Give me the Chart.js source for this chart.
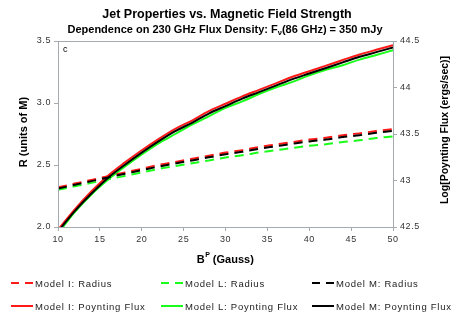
<!DOCTYPE html>
<html>
<head>
<meta charset="utf-8">
<script src="https://cdn.jsdelivr.net/npm/chart.js@4/dist/chart.umd.min.js"></script>
<style>
  html, body { margin: 0; padding: 0; background: #fff; }
  #wrap { width: 457px; height: 313px; position: relative; }
</style>
</head>
<body>
<div id="wrap"><canvas id="chart"></canvas></div>
<script>
// magnetic field values (Gauss)
var bField = [10, 12, 14, 16, 18, 20, 22, 24, 26, 28, 30, 32, 34, 36, 38, 40, 42, 44, 46, 48, 50];

// jet radius (units of M)
var radiusI = [2.32, 2.35, 2.38, 2.41, 2.44, 2.47, 2.50, 2.525, 2.55, 2.575, 2.60, 2.62, 2.645, 2.665, 2.685, 2.705, 2.72, 2.74, 2.755, 2.775, 2.79];
var radiusL = [2.30, 2.328, 2.356, 2.384, 2.412, 2.44, 2.468, 2.491, 2.514, 2.537, 2.56, 2.578, 2.601, 2.619, 2.637, 2.655, 2.668, 2.686, 2.699, 2.717, 2.73];
var radiusM = [2.31, 2.34, 2.37, 2.40, 2.43, 2.458, 2.487, 2.512, 2.537, 2.562, 2.586, 2.606, 2.631, 2.651, 2.671, 2.69, 2.705, 2.725, 2.74, 2.76, 2.775];

// log poynting flux (ergs/sec)
var fluxI = [42.47, 42.69, 42.885, 43.055, 43.195, 43.325, 43.445, 43.555, 43.645, 43.745, 43.825, 43.905, 43.975, 44.045, 44.115, 44.175, 44.235, 44.295, 44.355, 44.405, 44.455];
var fluxL = [42.43, 42.66, 42.85, 43.01, 43.15, 43.28, 43.40, 43.50, 43.60, 43.69, 43.78, 43.85, 43.93, 44.00, 44.06, 44.13, 44.19, 44.24, 44.30, 44.35, 44.40];
var fluxM = [42.45, 42.67, 42.86, 43.03, 43.17, 43.30, 43.42, 43.53, 43.62, 43.72, 43.80, 43.88, 43.95, 44.02, 44.09, 44.15, 44.21, 44.27, 44.33, 44.38, 44.43];

var radiusTicks = [2.0, 2.5, 3.0, 3.5];
var fluxTicks = [42.5, 43, 43.5, 44, 44.5];

var RED = '#ff1a1a', GREEN = '#1aff1a', BLACK = '#000000';
var AXIS = '#a3abb0';
var FONT = '"Liberation Sans", Arial, sans-serif';

function pts(ys) {
    return bField.map(function (b, i) { return {x: b, y: ys[i]}; });
}

function ds(label, ys, color, dashed, axis) {
    return {
        label: label,
        data: pts(ys),
        borderColor: color,
        backgroundColor: color,
        borderWidth: 2,
        borderDash: dashed ? [9, 6] : [],
        pointRadius: 0,
        cubicInterpolationMode: 'monotone',
        yAxisID: axis,
        dashed: dashed
    };
}

var datasets = [
    ds('Model I: Radius', radiusI, RED, true, 'y'),
    ds('Model L: Radius', radiusL, GREEN, true, 'y'),
    ds('Model M: Radius', radiusM, BLACK, true, 'y'),
    ds('Model I: Poynting Flux', fluxI, RED, false, 'y2'),
    ds('Model L: Poynting Flux', fluxL, GREEN, false, 'y2'),
    ds('Model M: Poynting Flux', fluxM, BLACK, false, 'y2')
];
// draw order: green under red under black
var drawOrder = [1, 2, 0, 1, 2, 0];
datasets.forEach(function (d, i) { d.order = drawOrder[i]; });

var extras = {
    id: 'extras',
    beforeDraw: function (chart) {
        chart.ctx.letterSpacing = '0.6px';
    },
    afterDraw: function (chart) {
        var ctx = chart.ctx, a = chart.chartArea;
        ctx.save();
        ctx.letterSpacing = '0px';
        ctx.strokeStyle = AXIS;
        ctx.lineWidth = 1;
        ctx.strokeRect(a.left + 0.5, a.top + 0.5, a.right - a.left, a.bottom - a.top);

        ctx.fillStyle = '#000';
        ctx.textBaseline = 'middle';
        ctx.textAlign = 'center';
        ctx.font = 'bold 12.5px ' + FONT;
        ctx.fillText('Jet Properties vs. Magnetic Field Strength', 227, 15);

        // subtitle with subscript
        var s1 = 'Dependence on 230 GHz Flux Density: F', s2 = 'ν', s3 = '(86 GHz) = 350 mJy';
        ctx.font = 'bold 11px ' + FONT;
        var w1 = ctx.measureText(s1).width, w3 = ctx.measureText(s3).width;
        ctx.font = 'bold 7.5px ' + FONT;
        var w2 = ctx.measureText(s2).width;
        var x = 225 - (w1 + w2 + w3) / 2;
        ctx.textAlign = 'left';
        ctx.font = 'bold 11px ' + FONT;
        ctx.fillText(s1, x, 30);
        ctx.font = 'bold 7.5px ' + FONT;
        ctx.fillText(s2, x + w1, 33);
        ctx.font = 'bold 11px ' + FONT;
        ctx.fillText(s3, x + w1 + w2, 30);

        // x axis title with superscript
        ctx.font = 'bold 11px ' + FONT;
        var b1 = 'B', b3 = ' (Gauss)';
        var bw1 = ctx.measureText(b1).width, bw3 = ctx.measureText(b3).width;
        ctx.font = 'bold 7px ' + FONT;
        var bw2 = ctx.measureText('P').width;
        x = 225 - (bw1 + bw2 + bw3) / 2;
        ctx.font = 'bold 11px ' + FONT;
        ctx.fillText(b1, x, 260);
        ctx.font = 'bold 7px ' + FONT;
        ctx.fillText('P', x + bw1 + 0.5, 255);
        ctx.font = 'bold 11px ' + FONT;
        ctx.fillText(b3, x + bw1 + bw2 + 0.5, 260);

        // y axis titles
        ctx.textAlign = 'center';
        ctx.save();
        ctx.translate(24, 132);
        ctx.rotate(-Math.PI / 2);
        ctx.font = 'bold 11px ' + FONT;
        ctx.fillText('R (units of M)', 0, 0);
        ctx.restore();
        ctx.save();
        ctx.translate(445, 130);
        ctx.rotate(-Math.PI / 2);
        ctx.font = 'bold 10.5px ' + FONT;
        ctx.fillText('Log[Poynting Flux (ergs/sec)]', 0, 0);
        ctx.restore();

        ctx.textAlign = 'left';
        ctx.font = '9px ' + FONT;
        ctx.fillText('c', a.left + 5, a.top + 9);

        // legend: 3 columns, 2 rows
        var colX = [11, 161, 312], rowY = [284, 307];
        ctx.font = '9.5px ' + FONT;
        ctx.letterSpacing = '0.75px';
        chart.data.datasets.forEach(function (d, i) {
            var cx = colX[i % 3], cy = rowY[Math.floor(i / 3)];
            ctx.strokeStyle = d.borderColor;
            ctx.lineWidth = 2;
            ctx.setLineDash(d.dashed ? [8, 6] : []);
            ctx.beginPath();
            ctx.moveTo(cx, cy - 1);
            ctx.lineTo(cx + 22, cy - 1);
            ctx.stroke();
            ctx.setLineDash([]);
            ctx.fillStyle = '#222';
            ctx.fillText(d.label, cx + 24, cy);
        });
        ctx.restore();
    }
};

var tickFont = {family: FONT, size: 9};

new Chart(document.getElementById('chart'), {
    type: 'line',
    data: {datasets: datasets},
    options: {
        responsive: true,
        maintainAspectRatio: false,
        animation: false,
        layout: {padding: {top: 41, left: 0, right: 0, bottom: 0}},
        plugins: {legend: {display: false}, tooltip: {enabled: false}},
        scales: {
            x: {
                type: 'linear', min: 10, max: 50,
                ticks: {stepSize: 5, font: tickFont, color: '#333', padding: 3, maxRotation: 0},
                grid: {drawOnChartArea: false, drawTicks: true, tickLength: 4, color: AXIS},
                border: {color: AXIS},
                afterFit: function (s) { s.height = 86; }
            },
            y: {
                position: 'left', min: 2, max: 3.5,
                afterBuildTicks: function (s) { s.ticks = radiusTicks.map(function (v) { return {value: v}; }); },
                ticks: {font: tickFont, color: '#333', padding: 3,
                    callback: function (v) { return Number(v).toFixed(1); }},
                grid: {drawOnChartArea: false, drawTicks: true, tickLength: 4, color: AXIS},
                border: {color: AXIS},
                afterFit: function (s) { s.width = 58; }
            },
            y2: {
                position: 'right', min: 42.5, max: 44.5,
                afterBuildTicks: function (s) { s.ticks = fluxTicks.map(function (v) { return {value: v}; }); },
                ticks: {font: tickFont, color: '#333', padding: 3,
                    callback: function (v) { return String(v); }},
                grid: {drawOnChartArea: false, drawTicks: true, tickLength: 4, color: AXIS},
                border: {color: AXIS},
                afterFit: function (s) { s.width = 64; }
            }
        }
    },
    plugins: [extras]
});
</script>
</body>
</html>
